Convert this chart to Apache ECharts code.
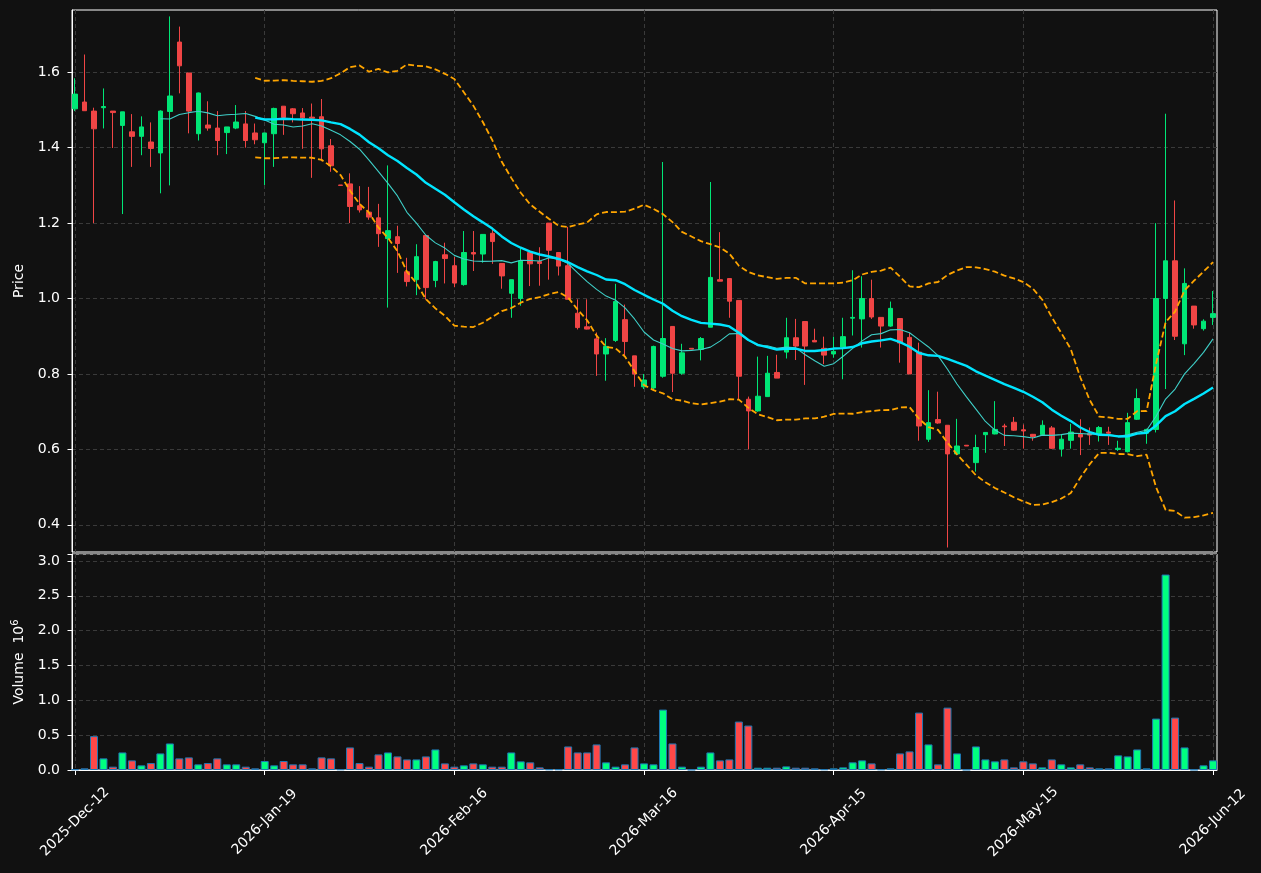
<!DOCTYPE html>
<html><head><meta charset="utf-8">
<script src="https://cdn.jsdelivr.net/npm/echarts@6/dist/echarts.min.js"></script>
<style>html,body{margin:0;padding:0;background:#111111;}#chart{width:1261px;height:873px;}</style>
</head><body><div id="chart"></div>
<script>
const opens = [1.503,1.521,1.497,1.506,1.497,1.459,1.442,1.430,1.415,1.386,
1.496,1.680,1.598,1.437,1.460,1.452,1.440,1.452,1.463,1.439,
1.413,1.437,1.510,1.503,1.492,1.481,1.482,1.405,1.301,1.304,
1.246,1.229,1.214,1.159,1.164,1.071,1.050,1.167,1.048,1.116,
1.087,1.037,1.122,1.118,1.173,1.093,1.014,1.000,1.122,1.098,
1.200,1.122,1.087,0.961,0.925,0.893,0.853,0.889,0.944,0.848,
0.766,0.763,0.794,0.926,0.802,0.868,0.865,0.924,1.050,1.053,
0.995,0.733,0.702,0.740,0.804,0.858,0.896,0.939,0.889,0.868,
0.853,0.871,0.948,0.946,1.000,0.950,0.927,0.947,0.897,0.858,
0.627,0.679,0.664,0.588,0.611,0.565,0.639,0.641,0.662,0.672,
0.652,0.640,0.639,0.657,0.601,0.624,0.640,0.642,0.642,0.646,
0.600,0.594,0.680,0.643,0.653,1.000,1.100,0.880,0.980,0.920,
0.950];
const closes = [1.542,1.498,1.450,1.509,1.493,1.495,1.430,1.455,1.398,1.497,
1.537,1.617,1.497,1.545,1.452,1.419,1.455,1.468,1.419,1.421,
1.439,1.504,1.480,1.490,1.479,1.478,1.397,1.352,1.300,1.244,
1.235,1.216,1.172,1.180,1.146,1.045,1.111,1.029,1.098,1.106,
1.041,1.122,1.118,1.170,1.151,1.060,1.050,1.100,1.092,1.093,
1.128,1.086,0.998,0.923,0.919,0.853,0.873,0.992,0.886,0.800,
0.784,0.873,0.894,0.802,0.856,0.866,0.894,1.056,1.046,0.993,
0.794,0.702,0.741,0.802,0.789,0.896,0.874,0.874,0.885,0.850,
0.860,0.899,0.950,1.000,0.951,0.927,0.974,0.882,0.800,0.662,
0.671,0.670,0.588,0.609,0.609,0.605,0.645,0.653,0.660,0.651,
0.649,0.634,0.664,0.603,0.627,0.646,0.633,0.638,0.658,0.643,
0.603,0.671,0.735,0.653,1.000,1.100,0.900,1.040,0.930,0.940,
0.960];
const lows = [1.497,1.498,1.200,1.451,1.399,1.224,1.349,1.380,1.349,1.279,
1.300,1.544,1.438,1.419,1.445,1.380,1.383,1.449,1.400,1.409,
1.301,1.349,1.434,1.467,1.397,1.320,1.364,1.336,1.300,1.200,
1.228,1.209,1.137,0.976,1.068,1.032,1.009,0.997,1.030,1.040,
1.030,1.034,1.073,1.095,1.092,1.026,0.949,0.981,1.033,1.034,
1.050,1.061,0.998,0.918,0.918,0.795,0.782,0.885,0.848,0.766,
0.760,0.757,0.790,0.752,0.798,0.866,0.836,0.924,1.046,0.949,
0.733,0.600,0.700,0.740,0.789,0.841,0.837,0.771,0.885,0.826,
0.843,0.786,0.902,0.870,0.946,0.870,0.925,0.830,0.800,0.623,
0.620,0.668,0.340,0.586,0.609,0.541,0.591,0.640,0.609,0.649,
0.602,0.623,0.637,0.601,0.581,0.602,0.585,0.612,0.621,0.612,
0.596,0.592,0.678,0.615,0.645,0.760,0.890,0.850,0.920,0.915,
0.930];
const highs = [1.584,1.647,1.506,1.557,1.497,1.495,1.489,1.483,1.467,1.499,
1.748,1.721,1.598,1.546,1.523,1.497,1.455,1.513,1.497,1.464,
1.439,1.506,1.510,1.505,1.505,1.517,1.529,1.423,1.301,1.332,
1.298,1.296,1.251,1.353,1.193,1.108,1.144,1.167,1.100,1.148,
1.110,1.179,1.179,1.170,1.184,1.093,1.050,1.133,1.122,1.136,
1.200,1.122,1.190,0.998,0.998,0.910,0.895,1.039,0.984,0.848,
0.800,0.875,1.362,0.926,0.880,0.868,0.898,1.309,1.176,1.053,
0.995,0.740,0.846,0.848,0.851,0.949,0.946,0.939,0.920,0.899,
0.899,0.949,1.075,1.059,1.050,0.950,0.992,0.947,0.909,0.883,
0.757,0.753,0.664,0.681,0.611,0.639,0.645,0.728,0.668,0.686,
0.666,0.641,0.677,0.662,0.640,0.668,0.680,0.658,0.662,0.660,
0.623,0.697,0.761,0.655,1.200,1.490,1.260,1.080,0.980,0.945,
1.020];
const volumes = [0.010,0.024,0.486,0.167,0.048,0.252,0.138,0.067,0.100,0.238,
0.381,0.167,0.181,0.081,0.100,0.167,0.081,0.081,0.048,0.024,
0.129,0.067,0.129,0.081,0.081,0.024,0.181,0.167,0.010,0.324,
0.100,0.048,0.224,0.252,0.195,0.152,0.152,0.195,0.295,0.095,
0.048,0.067,0.095,0.081,0.048,0.048,0.252,0.124,0.110,0.038,
0.010,0.010,0.338,0.252,0.252,0.367,0.110,0.048,0.081,0.324,
0.095,0.081,0.867,0.381,0.048,0.005,0.048,0.252,0.138,0.152,
0.695,0.638,0.033,0.033,0.033,0.052,0.033,0.033,0.024,0.010,
0.024,0.038,0.110,0.138,0.095,0.010,0.024,0.238,0.267,0.824,
0.367,0.081,0.895,0.238,0.005,0.338,0.152,0.124,0.152,0.038,
0.124,0.095,0.038,0.152,0.081,0.038,0.081,0.038,0.024,0.024,
0.210,0.195,0.295,0.024,0.738,2.805,0.752,0.324,0.005,0.067,
0.138];
const tickIndex = [0, 20, 40, 60, 80, 100, 120];
const tickLabels = ['2025-Dec-12','2026-Jan-19','2026-Feb-16','2026-Mar-16','2026-Apr-15','2026-May-15','2026-Jun-12'];
const priceTicks = [0.4, 0.6, 0.8, 1.0, 1.2, 1.4, 1.6];

// indicators derived from the closes
function sma(arr, n) {
  const out = [];
  for (let i = n - 1; i < arr.length; i++) {
    let s = 0; for (let j = i - n + 1; j <= i; j++) s += arr[j];
    out.push([i, s / n]);
  }
  return out;
}
function boll(arr, n, k) {
  const up = [], lo = [];
  for (let i = n - 1; i < arr.length; i++) {
    let s = 0; for (let j = i - n + 1; j <= i; j++) s += arr[j];
    const m = s / n; let q = 0;
    for (let j = i - n + 1; j <= i; j++) q += (arr[j] - m) * (arr[j] - m);
    const sd = Math.sqrt(q / n);
    up.push([i, m + k * sd]); lo.push([i, m - k * sd]);
  }
  return [up, lo];
}
const ma10 = sma(closes, 10);
const ma20 = sma(closes, 20);
const [bbUp, bbLo] = boll(closes, 20, 2);

const UP = '#00e676', DOWN = '#f04545', VUP = '#00ff80', VDOWN = '#ff4848';
const FONT = 'DejaVu Sans';
const gridLine = {show: true, lineStyle: {color: '#3a3a3a', width: 1, type: [4, 3]}};
const XMIN = -0.32, XMAX = 120.42;

const chart = echarts.init(document.getElementById('chart'), null, {renderer: 'canvas'});
chart.setOption({
  animation: false,
  backgroundColor: '#111111',
  textStyle: {fontFamily: FONT},
  grid: [
    {left: 72, top: 10, width: 1145, height: 542, show: true, borderColor: '#ffffff', borderWidth: 1, backgroundColor: 'transparent'},
    {left: 72, top: 554, width: 1145, height: 216, show: true, borderColor: '#ffffff', borderWidth: 1, backgroundColor: 'transparent'}
  ],
  xAxis: [
    {type: 'value', gridIndex: 0, min: XMIN, max: XMAX, splitNumber: 6,
     axisLine: {show: false}, axisTick: {show: false, customValues: tickIndex},
     axisLabel: {show: false, customValues: tickIndex}, splitLine: gridLine},
    {type: 'value', gridIndex: 1, min: XMIN, max: XMAX, splitNumber: 6,
     axisLine: {show: true, onZero: false, lineStyle: {color: '#ffffff'}},
     axisTick: {show: true, length: 5, lineStyle: {color: '#ffffff'}, customValues: tickIndex},
     axisLabel: {show: true, customValues: tickIndex, rotate: 45, align: 'center', verticalAlign: 'middle', margin: 52,
       color: '#ffffff', fontSize: 14, fontFamily: FONT,
       formatter: function (v) { const k = tickIndex.indexOf(Math.round(v)); return (k >= 0 && Math.abs(v - Math.round(v)) < 1e-6) ? tickLabels[k] : ''; }},
     splitLine: gridLine}
  ],
  yAxis: [
    {type: 'value', gridIndex: 0, min: 0.328, max: 1.765, splitNumber: 7,
     axisLine: {show: true, onZero: false, lineStyle: {color: '#ffffff'}},
     axisTick: {show: true, length: 4.5, lineStyle: {color: '#ffffff'}, customValues: priceTicks},
     axisLabel: {color: '#ffffff', fontSize: 14, fontFamily: FONT, margin: 12, customValues: priceTicks,
       formatter: function (v) { return Math.abs(v * 5 - Math.round(v * 5)) < 1e-6 ? v.toFixed(1) : ''; }},
     splitLine: gridLine,
     name: 'Price', nameLocation: 'middle', nameGap: 41,
     nameTextStyle: {color: '#ffffff', fontSize: 14, fontFamily: FONT}},
    {type: 'value', gridIndex: 1, min: 0, max: 3.1, interval: 0.5,
     axisLine: {show: true, onZero: false, lineStyle: {color: '#ffffff'}},
     axisTick: {show: true, length: 4.5, lineStyle: {color: '#ffffff'}},
     axisLabel: {color: '#ffffff', fontSize: 14, fontFamily: FONT, margin: 12,
       formatter: function (v) { return Math.abs(v * 2 - Math.round(v * 2)) < 1e-6 ? v.toFixed(1) : ''; }},
     splitLine: gridLine,
     name: 'Volume  10{sup|6}', nameLocation: 'middle', nameGap: 41,
     nameTextStyle: {color: '#ffffff', fontSize: 14, fontFamily: FONT,
       rich: {sup: {fontSize: 10, color: '#ffffff', fontFamily: FONT, verticalAlign: 'top', padding: [0, 0, 8, 0]}}}}
  ],
  series: [
    {type: 'candlestick', xAxisIndex: 0, yAxisIndex: 0, barWidth: 5, z: 2,
     encode: {x: 0, y: [1, 2, 3, 4]},
     data: opens.map((o, i) => [i, o, closes[i], lows[i], highs[i]]),
     itemStyle: {color: UP, color0: DOWN, borderColor: UP, borderColor0: DOWN, borderWidth: 1}},
    {type: 'line', xAxisIndex: 0, yAxisIndex: 0, data: ma10, showSymbol: false, z: 3,
     lineStyle: {color: '#3fcfc8', width: 1.1}},
    {type: 'line', xAxisIndex: 0, yAxisIndex: 0, data: ma20, showSymbol: false, z: 4,
     lineStyle: {color: '#00e5ff', width: 2.4}},
    {type: 'line', xAxisIndex: 0, yAxisIndex: 0, data: bbUp, showSymbol: false, z: 4,
     lineStyle: {color: '#ffa500', width: 1.8, type: [6, 3]}},
    {type: 'line', xAxisIndex: 0, yAxisIndex: 0, data: bbLo, showSymbol: false, z: 4,
     lineStyle: {color: '#ffa500', width: 1.8, type: [6, 3]}},
    {type: 'bar', xAxisIndex: 1, yAxisIndex: 1, barWidth: 8,
     data: volumes.map((v, i) => ({value: [i, v], itemStyle: {color: closes[i] >= opens[i] ? VUP : VDOWN}})),
     itemStyle: {borderColor: '#1f77b4', borderWidth: 1}}
  ]
});
</script></body></html>
